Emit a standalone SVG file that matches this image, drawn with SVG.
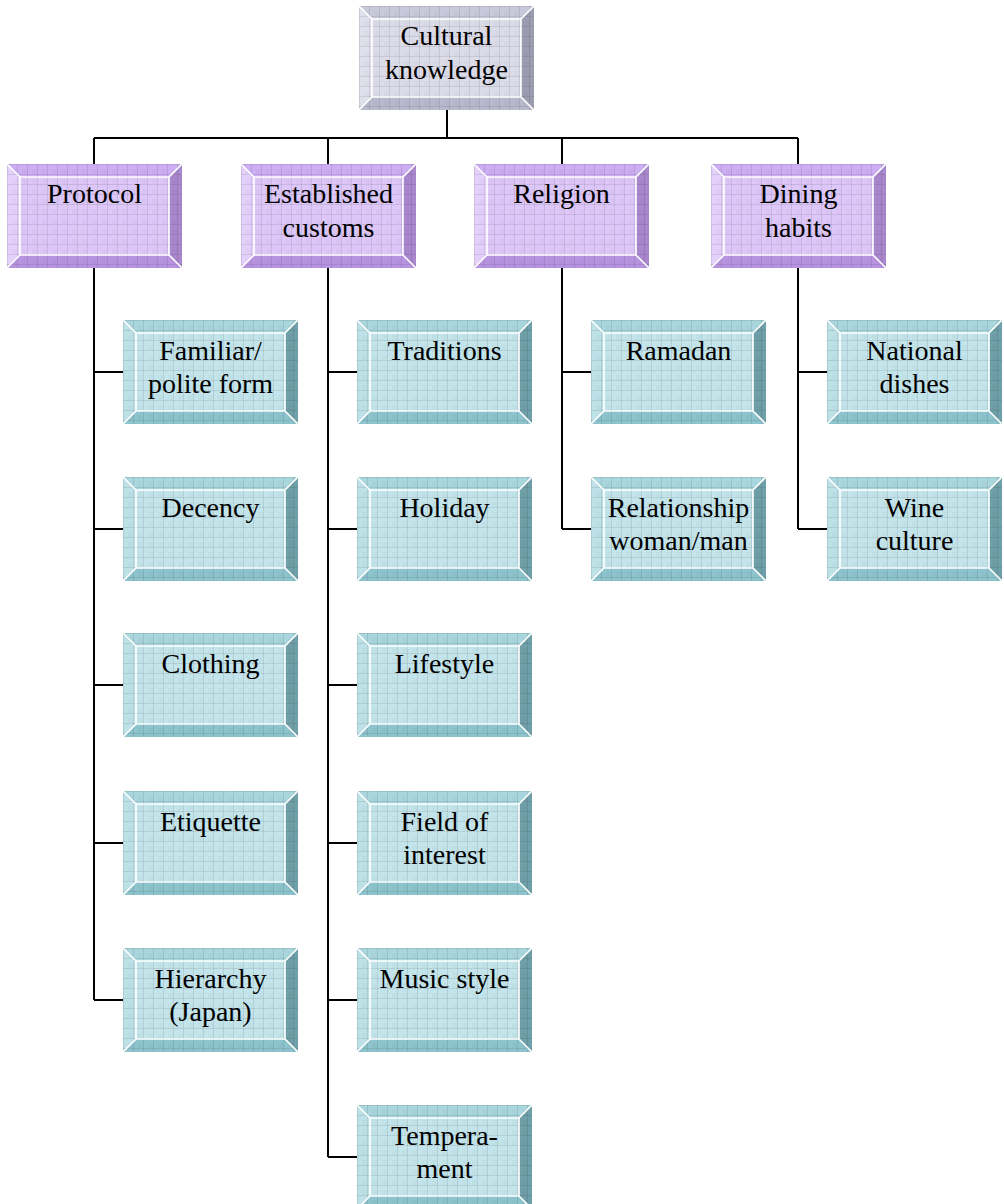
<svg xmlns="http://www.w3.org/2000/svg" xmlns:xlink="http://www.w3.org/1999/xlink" width="1004" height="1204" viewBox="0 0 1004 1204">
<style>
  .t { font-family: "Liberation Serif", "Times New Roman", serif; font-size: 28px; fill: #000; text-anchor: middle; }
  .c { stroke: #000; stroke-width: 2; fill: none; }
  .edge { stroke: #fff; stroke-width: 1.6; fill: none; }
</style>
<defs>
  <pattern id="grid" width="10" height="10" patternUnits="userSpaceOnUse">
    <path d="M0 0.5 H10 M0.5 0 V10" stroke="#000" stroke-opacity="0.09" stroke-width="1"/>
    <rect x="5" y="5" width="5" height="5" fill="#000" fill-opacity="0.02"/>
  </pattern>
  <g id="shape">
    <path class="top" d="M0 0 H175 L162 13 H13 Z"/>
  </g>
  <g id="boxP">
    <rect x="0" y="0" width="175" height="104" fill="#dcc7f8"/>
    <path d="M0 0 H175 L162 13 H13 Z" fill="#ccaef2"/>
    <path d="M0 0 L13 13 V91 L0 104 Z" fill="#e3d0fb"/>
    <path d="M175 0 V104 L162 91 V13 Z" fill="#a887cd"/>
    <path d="M0 104 H175 L162 91 H13 Z" fill="#b894e0"/>
    <rect x="0" y="0" width="175" height="104" fill="url(#grid)"/>
    <path class="edge" d="M13 13 H162 V91 H13 Z M0 0 L13 13 M175 0 L162 13 M0 104 L13 91 M175 104 L162 91"/>
  </g>
  <g id="boxT">
    <rect x="0" y="0" width="175" height="104" fill="#c3e4ea"/>
    <path d="M0 0 H175 L162 13 H13 Z" fill="#a9d5dd"/>
    <path d="M0 0 L13 13 V91 L0 104 Z" fill="#bde1e7"/>
    <path d="M175 0 V104 L162 91 V13 Z" fill="#6f9fa8"/>
    <path d="M0 104 H175 L162 91 H13 Z" fill="#8dc3cc"/>
    <rect x="0" y="0" width="175" height="104" fill="url(#grid)"/>
    <path class="edge" d="M13 13 H162 V91 H13 Z M0 0 L13 13 M175 0 L162 13 M0 104 L13 91 M175 104 L162 91"/>
  </g>
  <g id="boxR">
    <rect x="0" y="0" width="175" height="104" fill="#dcdce9"/>
    <path d="M0 0 H175 L162 13 H13 Z" fill="#c9c9dc"/>
    <path d="M0 0 L13 13 V91 L0 104 Z" fill="#e0e0ec"/>
    <path d="M175 0 V104 L162 91 V13 Z" fill="#9d9db2"/>
    <path d="M0 104 H175 L162 91 H13 Z" fill="#b9b9cd"/>
    <rect x="0" y="0" width="175" height="104" fill="url(#grid)"/>
    <path class="edge" d="M13 13 H162 V91 H13 Z M0 0 L13 13 M175 0 L162 13 M0 104 L13 91 M175 104 L162 91"/>
  </g>
</defs>
<rect width="1004" height="1204" fill="#fff"/>

<g id="connectors">
  <path class="c" d="M447 110 V138 M94 138 H798 M94 138 V164 M328 138 V164 M562 138 V164 M798 138 V164"/>
  <path class="c" d="M94 268 V1000 M94 372 H123 M94 529 H123 M94 685 H123 M94 843 H123 M94 1000 H123"/>
  <path class="c" d="M328 268 V1157 M328 372 H357 M328 529 H357 M328 685 H357 M328 843 H357 M328 1000 H357 M328 1157 H357"/>
  <path class="c" d="M562 268 V529 M562 372 H591 M562 529 H591"/>
  <path class="c" d="M798 268 V529 M798 372 H827 M798 529 H827"/>
</g>

<g id="root" transform="translate(359,6)"><use href="#boxR"/><text class="t" x="87.5" y="39">Cultural</text><text class="t" x="87.5" y="73">knowledge</text></g>

<g id="protocol" transform="translate(7,164)"><use href="#boxP"/><text class="t" x="87.5" y="39">Protocol</text></g>
<g id="established" transform="translate(241,164)"><use href="#boxP"/><text class="t" x="87.5" y="39">Established</text><text class="t" x="87.5" y="73">customs</text></g>
<g id="religion" transform="translate(474,164)"><use href="#boxP"/><text class="t" x="87.5" y="39">Religion</text></g>
<g id="dining" transform="translate(711,164)"><use href="#boxP"/><text class="t" x="87.5" y="39">Dining</text><text class="t" x="87.5" y="73">habits</text></g>

<g id="familiar" transform="translate(123,320)"><use href="#boxT"/><text class="t" x="87.5" y="40">Familiar/</text><text class="t" x="87.5" y="73">polite form</text></g>
<g id="decency" transform="translate(123,477)"><use href="#boxT"/><text class="t" x="87.5" y="40">Decency</text></g>
<g id="clothing" transform="translate(123,633)"><use href="#boxT"/><text class="t" x="87.5" y="40">Clothing</text></g>
<g id="etiquette" transform="translate(123,791)"><use href="#boxT"/><text class="t" x="87.5" y="40">Etiquette</text></g>
<g id="hierarchy" transform="translate(123,948)"><use href="#boxT"/><text class="t" x="87.5" y="40">Hierarchy</text><text class="t" x="87.5" y="73">(Japan)</text></g>

<g id="traditions" transform="translate(357,320)"><use href="#boxT"/><text class="t" x="87.5" y="40">Traditions</text></g>
<g id="holiday" transform="translate(357,477)"><use href="#boxT"/><text class="t" x="87.5" y="40">Holiday</text></g>
<g id="lifestyle" transform="translate(357,633)"><use href="#boxT"/><text class="t" x="87.5" y="40">Lifestyle</text></g>
<g id="field" transform="translate(357,791)"><use href="#boxT"/><text class="t" x="87.5" y="40">Field of</text><text class="t" x="87.5" y="73">interest</text></g>
<g id="music" transform="translate(357,948)"><use href="#boxT"/><text class="t" x="87.5" y="40">Music style</text></g>
<g id="temperament" transform="translate(357,1105)"><use href="#boxT"/><text class="t" x="87.5" y="40">Tempera-</text><text class="t" x="87.5" y="73">ment</text></g>

<g id="ramadan" transform="translate(591,320)"><use href="#boxT"/><text class="t" x="87.5" y="40">Ramadan</text></g>
<g id="relationship" transform="translate(591,477)"><use href="#boxT"/><text class="t" x="87.5" y="40">Relationship</text><text class="t" x="87.5" y="73">woman/man</text></g>

<g id="national" transform="translate(827,320)"><use href="#boxT"/><text class="t" x="87.5" y="40">National</text><text class="t" x="87.5" y="73">dishes</text></g>
<g id="wine" transform="translate(827,477)"><use href="#boxT"/><text class="t" x="87.5" y="40">Wine</text><text class="t" x="87.5" y="73">culture</text></g>
</svg>
